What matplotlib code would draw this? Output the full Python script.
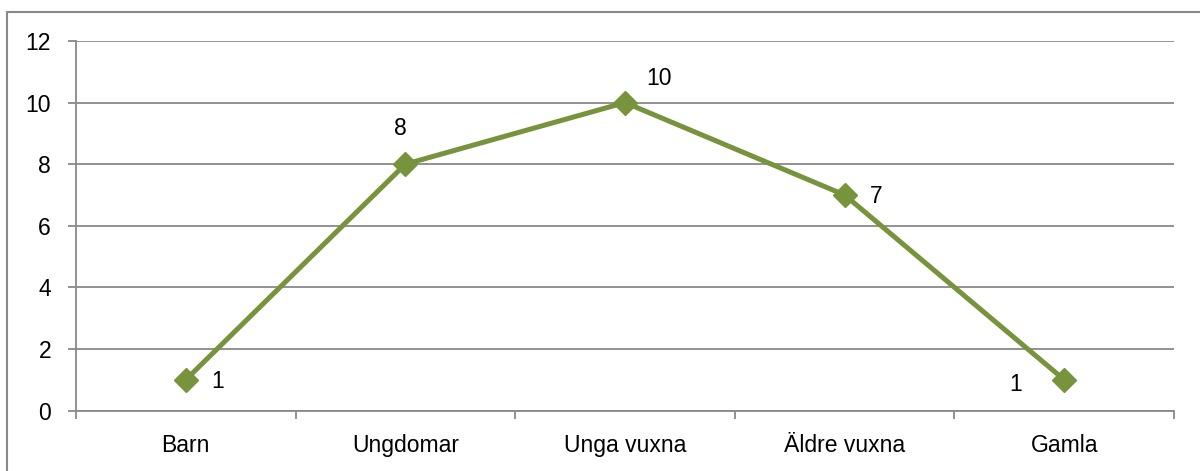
import matplotlib.pyplot as plt
from matplotlib.patches import Rectangle

categories = ["Barn", "Ungdomar", "Unga vuxna", "Äldre vuxna", "Gamla"]
values = [1, 8, 10, 7, 1]
# label offsets in points (dx, dy) for each data label
label_offsets = [(23, -1), (-3.5, 26), (24.5, 17.5), (23, -1), (-35, -3.5)]
yticks = [0, 2, 4, 6, 8, 10, 12]

line_color = "#77933C"
grid_color = "#898989"

plt.rcParams["font.family"] = ["Liberation Sans", "DejaVu Sans"]
fs = 16.5

fig = plt.figure(figsize=(12, 4.71), dpi=100)
ax = fig.add_axes([76 / 1200, 1 - 410.5 / 471, 1098 / 1200, 369.5 / 471])

x = list(range(len(categories)))
ax.plot(x, values, color=line_color, linewidth=3.6, marker="D", markersize=12,
        markerfacecolor=line_color, markeredgecolor=line_color, zorder=3,
        solid_joinstyle="round")

for xi, v, (dx, dy) in zip(x, values, label_offsets):
    ax.annotate(str(v), (xi, v), xytext=(dx, dy), textcoords="offset points",
                ha="center", va="center", fontsize=fs, color="black")

ax.set_xlim(-0.5, len(categories) - 0.5)
ax.set_ylim(0, 12)
ax.set_yticks(yticks)
ax.set_yticklabels([str(t) for t in yticks], fontsize=fs)
ax.yaxis.grid(True, color=grid_color, linewidth=1.3)
ax.set_axisbelow(True)

# category labels centred, tick marks at category boundaries
ax.set_xticks(x)
ax.set_xticklabels(categories, fontsize=fs)
ax.tick_params(axis="x", length=0, pad=17)
ax.set_xticks([i - 0.5 for i in range(len(categories) + 1)], minor=True)
ax.tick_params(axis="x", which="minor", length=6, width=1.3, color=grid_color)
ax.tick_params(axis="y", length=6, width=1.3, color=grid_color, pad=12)

for side in ["top", "right"]:
    ax.spines[side].set_visible(False)
ax.spines["left"].set_color(grid_color)
ax.spines["left"].set_linewidth(1.3)
ax.spines["bottom"].set_color(grid_color)
ax.spines["bottom"].set_linewidth(1.3)

# chart frame
fig.patches.append(Rectangle((7 / 1200, -0.05), 1.2, 1 - 12 / 471 + 0.05,
                             transform=fig.transFigure, fill=False,
                             edgecolor=grid_color, linewidth=1.5))

fig.savefig("out.png", dpi=100)
